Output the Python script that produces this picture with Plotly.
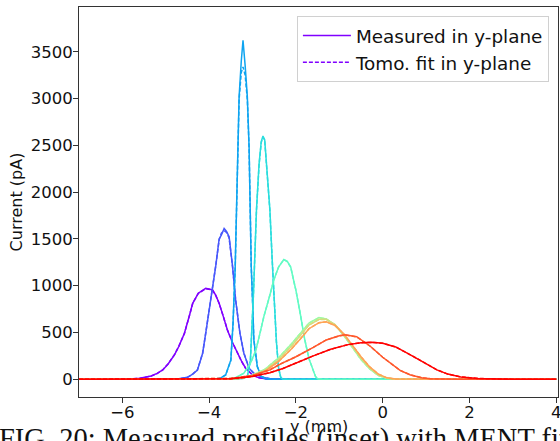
import plotly.graph_objects as go

# ---- data ----
x_purple = [-7.0, -6.0, -5.8, -5.6, -5.45, -5.34, -5.2, -5.07, -4.95, -4.8, -4.7, -4.57, -4.45, -4.38, -4.25, -4.08, -3.98, -3.92, -3.85, -3.77, -3.68, -3.58, -3.46, -3.35, -3.25, -3.16, -3.0, -2.85, -2.7, -2.5, 4.0]
meas_purple = [0, 0, 3, 10, 22, 35, 62, 99, 160, 260, 350, 491, 690, 812, 920, 972, 962, 954, 900, 812, 680, 527, 390, 278, 190, 118, 46, 15, 5, 0, 0]
fit_purple = [0, 0, 3, 9, 20, 33, 60, 100, 162, 262, 352, 490, 688, 810, 918, 968, 960, 950, 898, 810, 680, 528, 390, 278, 188, 118, 46, 15, 5, 0, 0]

x_blue = [-7.0, -4.9, -4.7, -4.5, -4.38, -4.27, -4.15, -4.08, -3.96, -3.85, -3.77, -3.72, -3.655, -3.6, -3.54, -3.46, -3.39, -3.29, -3.2, -3.08, -2.97, -2.8, -2.6, -2.4, 4.0]
meas_blue = [0, 0, 5, 21, 55, 99, 278, 491, 847, 1203, 1500, 1540, 1613, 1580, 1523, 1203, 847, 491, 278, 118, 64, 25, 5, 0, 0]
fit_blue = [0, 0, 5, 20, 55, 100, 280, 490, 850, 1210, 1490, 1560, 1590, 1570, 1510, 1200, 850, 490, 280, 118, 64, 25, 5, 0, 0]

x_azure = [-7.0, -3.9, -3.75, -3.62, -3.5, -3.45, -3.4, -3.37, -3.35, -3.31, -3.26, -3.22, -3.17, -3.12, -3.08, -3.06, -3.03, -3.0, -2.97, -2.89, -2.8, -2.7, -2.5, 4.0]
meas_azure = [0, 0, 10, 46, 206, 600, 1200, 1809, 2485, 3019, 3400, 3625, 3350, 3019, 2485, 1809, 1200, 847, 420, 135, 30, 5, 0, 0]
fit_azure = [0, 0, 10, 46, 200, 590, 1190, 1800, 2470, 2990, 3280, 3340, 3250, 2990, 2470, 1800, 1200, 840, 420, 135, 30, 5, 0, 0]

x_cyan = [-7.0, -3.4, -3.2, -3.12, -3.05, -2.98, -2.91, -2.85, -2.8, -2.76, -2.72, -2.66, -2.6, -2.55, -2.5, -2.45, -2.4, -2.35, -2.3, 4.0]
meas_cyan = [0, 0, 10, 28, 200, 900, 1809, 2300, 2540, 2600, 2560, 2129, 1809, 1300, 800, 400, 120, 20, 0, 0]
fit_cyan = [0, 0, 10, 28, 200, 900, 1800, 2290, 2530, 2590, 2550, 2120, 1800, 1300, 800, 400, 120, 20, 0, 0]

x_aqua = [-7.0, -3.6, -3.4, -3.2, -3.05, -2.93, -2.85, -2.74, -2.6, -2.51, -2.4, -2.28, -2.2, -2.12, -2.05, -2.0, -1.9, -1.8, -1.7, -1.62, -1.55, -1.5, -1.4, 4.0]
meas_aqua = [0, 0, 15, 64, 170, 300, 450, 669, 900, 1061, 1200, 1280, 1260, 1200, 1050, 950, 700, 430, 220, 110, 30, 5, 0, 0]
fit_aqua = [0, 0, 15, 64, 170, 300, 450, 669, 900, 1061, 1200, 1278, 1258, 1198, 1050, 950, 700, 430, 220, 110, 30, 5, 0, 0]

x_group = [-7.0, -3.6, -3.3, -3.0, -2.7, -2.4, -2.1, -1.9, -1.7, -1.47, -1.3, -1.1, -0.9, -0.7, -0.5, -0.3, -0.1, 0.1, 0.3, 4.0]
meas_green = [0, 0, 12, 45, 110, 230, 380, 490, 600, 660, 645, 580, 470, 340, 210, 110, 40, 10, 0, 0]
fit_green = [0, 0, 12, 45, 110, 230, 380, 490, 600, 658, 644, 580, 470, 340, 210, 110, 40, 10, 0, 0]
meas_yellow = [0, 0, 10, 40, 100, 210, 355, 465, 580, 640, 640, 585, 480, 355, 225, 120, 46, 12, 0, 0]
fit_yellow = [0, 0, 10, 40, 100, 210, 355, 465, 580, 638, 638, 585, 480, 355, 225, 120, 46, 12, 0, 0]
meas_orange = [0, 0, 8, 35, 90, 190, 325, 430, 540, 605, 615, 575, 485, 365, 240, 132, 55, 15, 2, 0]
fit_orange = [0, 0, 8, 35, 90, 190, 325, 430, 540, 603, 613, 575, 485, 365, 240, 132, 55, 15, 2, 0]

x_ored = [-7.0, -3.8, -3.5, -3.0, -2.6, -2.35, -2.0, -1.6, -1.3, -1.0, -0.87, -0.6, -0.28, 0.0, 0.18, 0.4, 0.64, 0.9, 1.1, 1.4, 1.7, 4.0]
meas_ored = [0, 0, 8, 40, 100, 165, 240, 340, 420, 465, 475, 455, 350, 235, 170, 95, 46, 15, 5, 1, 0, 0]
fit_ored = [0, 0, 8, 40, 100, 165, 240, 340, 420, 464, 473, 453, 350, 235, 170, 95, 46, 15, 5, 1, 0, 0]

x_red = [-7.0, -4.0, -3.5, -3.0, -2.6, -2.3, -2.0, -1.6, -1.2, -0.8, -0.5, -0.25, 0.0, 0.3, 0.7, 1.0, 1.25, 1.5, 1.8, 2.2, 2.6, 3.0, 4.0]
meas_red = [0, 0, 5, 30, 70, 115, 175, 250, 320, 370, 390, 395, 385, 345, 245, 165, 100, 55, 25, 8, 2, 0, 0]
fit_red = [0, 0, 5, 30, 70, 115, 175, 250, 320, 370, 390, 394, 384, 345, 245, 165, 100, 55, 25, 8, 2, 0, 0]

colors = ["#8000ff", "#4757fb", "#0ea4f0", "#2adddd", "#62fbc4", "#9cfba4", "#d4dd80", "#ffa456", "#ff582c", "#ff0000"]

series = [
    (x_purple, meas_purple, fit_purple),
    (x_blue, meas_blue, fit_blue),
    (x_azure, meas_azure, fit_azure),
    (x_cyan, meas_cyan, fit_cyan),
    (x_aqua, meas_aqua, fit_aqua),
    (x_group, meas_green, fit_green),
    (x_group, meas_yellow, fit_yellow),
    (x_group, meas_orange, fit_orange),
    (x_ored, meas_ored, fit_ored),
    (x_red, meas_red, fit_red),
]

x_ticks = [-6, -4, -2, 0, 2, 4]
y_ticks = [0, 500, 1000, 1500, 2000, 2500, 3000, 3500]

FONT = "DejaVu Sans"

fig = go.Figure()
for i, (xs, m, f) in enumerate(series):
    fig.add_trace(go.Scatter(x=xs, y=m, mode="lines", line=dict(color=colors[i], width=1.5),
                             name="Measured in y-plane", showlegend=(i == 0)))
    fig.add_trace(go.Scatter(x=xs, y=f, mode="lines", line=dict(color=colors[i], width=1.5, dash="4px,2px"),
                             name="Tomo. fit in y-plane", showlegend=(i == 0)))

axis_common = dict(showgrid=False, zeroline=False, showline=True, linecolor="#333", linewidth=1,
                   mirror=True, ticks="outside", ticklen=5, tickwidth=1, tickcolor="#333",
                   ticklabeloverflow="allow", automargin=False,
                   tickfont=dict(family=FONT, size=16.5, color="#111"))

fig.update_layout(
    width=560, height=441,
    margin=dict(l=79, r=2, t=7, b=44),
    paper_bgcolor="white", plot_bgcolor="white",
    font=dict(family=FONT, size=16, color="#111"),
    xaxis=dict(range=[-7, 4.04], tickvals=x_ticks, ticklabelstandoff=-5, **axis_common),
    yaxis=dict(range=[-190, 3980], tickvals=y_ticks, ticklabelstandoff=-3,
               title=dict(text="Current (pA)", font=dict(family=FONT, size=16), standoff=4), **axis_common),
    legend=dict(x=0.981, y=0.977, xanchor="right", yanchor="top", bgcolor="white",
                bordercolor="#d0d0d0", borderwidth=1, font=dict(family=FONT, size=18.4),
                tracegroupgap=0, itemwidth=48),
    showlegend=True,
)

# figure caption (partly cut off at the bottom, as in the reference)
fig.add_annotation(text="FIG. 20: Measured profiles (inset) with MENT fit", xref="paper", yref="paper",
                   x=-82/479, y=-(421-397)/390, xanchor="left", yanchor="top",
                   showarrow=False, font=dict(family="Liberation Serif", size=28.5, color="#111"))
# x-axis title drawn over the caption
fig.add_annotation(text="y (mm)", xref="paper", yref="paper",
                   x=0.5, y=-(426-397)/390, xanchor="center", yanchor="middle",
                   showarrow=False, font=dict(family=FONT, size=16, color="#111"))

fig.write_html("out.html")
